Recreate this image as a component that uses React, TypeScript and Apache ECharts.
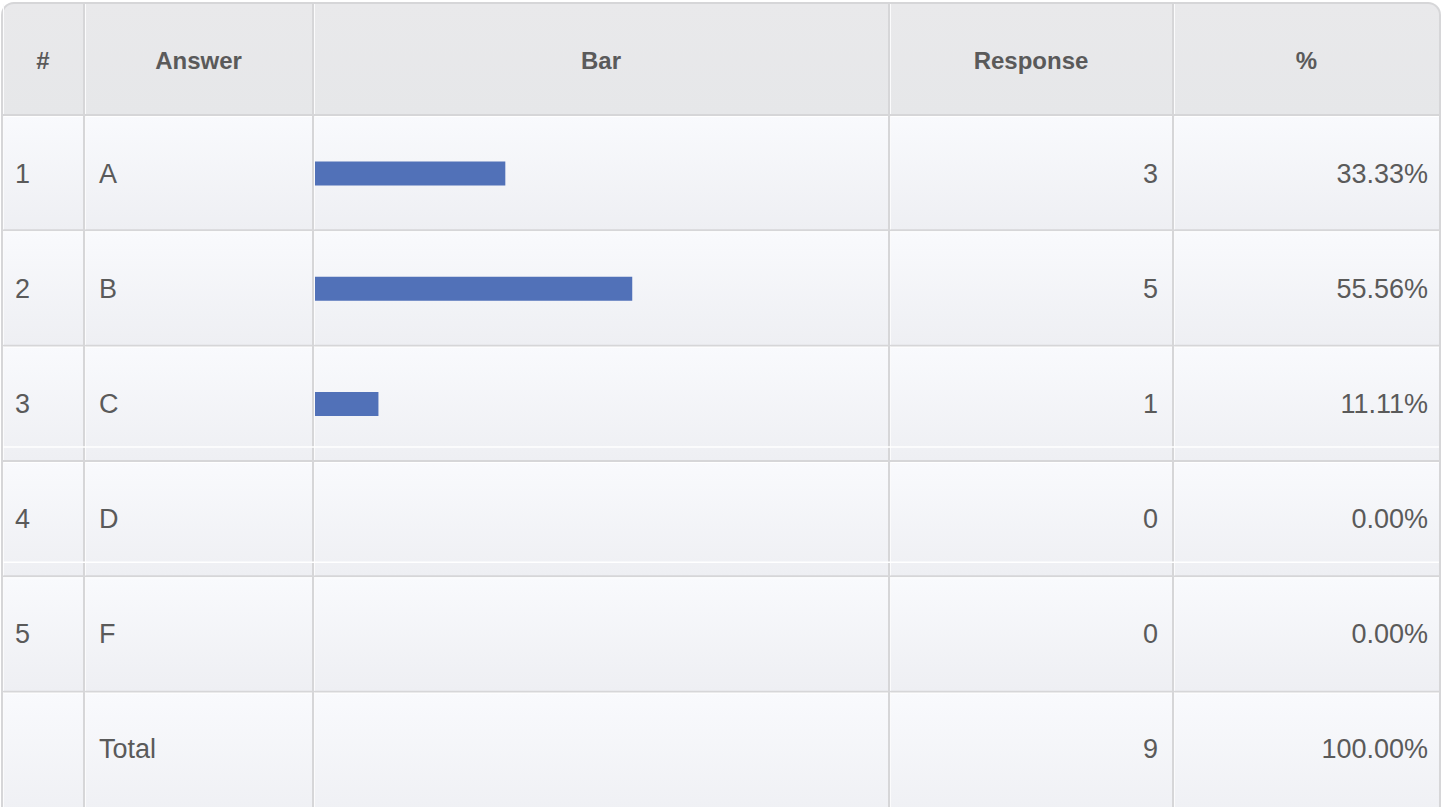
import React, { useEffect, useRef } from "react";
import * as echarts from "echarts";

const answerIds = ["1", "2", "3", "4", "5"];
const answers = ["A", "B", "C", "D", "F"];
const responses = [3, 5, 1, 0, 0];
const percents = [33.33, 55.56, 11.11, 0.0, 0.0];
const totalLabel = "Total";
const totalResponses = 9;
const totalPercent = 100.0;
const headers = ["#", "Answer", "Bar", "Response", "%"];

const W = 1442;
const H = 807;
const colX = [2, 84, 313, 889, 1173, 1440];
const headerTop = 3;
const headerBottom = 115;
const rowH = (H - headerBottom) / 6;
const FONT = "'Liberation Sans', Arial, Helvetica, sans-serif";
const TEXT = "#5a5a5a";

export default function App() {
  const ref = useRef<HTMLDivElement>(null);
  useEffect(() => {
    document.body.style.margin = "0";
    const chart = echarts.init(ref.current!, null, { renderer: "svg", width: W, height: H });

    const rowY: number[] = [headerTop, headerBottom];
    for (let i = 1; i <= 6; i++) rowY.push(headerBottom + rowH * i);
    rowY[rowY.length - 1] = H + 20;

    const graphics: any[] = [];
    graphics.push({
      type: "rect",
      shape: { x: 1, y: 2, width: W - 2, height: H + 20, r: [13, 13, 0, 0] },
      style: { fill: "#d6d6d8" },
      z: -10,
    });
    for (let r = 0; r < rowY.length - 1; r++) {
      for (let c = 0; c < colX.length - 1; c++) {
        const x0 = colX[c] + 1;
        const y0 = rowY[r] + 1;
        const w = colX[c + 1] - colX[c] - 2;
        const h = rowY[r + 1] - rowY[r] - 2;
        const isHeader = r === 0;
        let radius: number[] = [0, 0, 0, 0];
        if (isHeader && c === 0) radius = [11, 0, 0, 0];
        if (isHeader && c === colX.length - 2) radius = [0, 11, 0, 0];
        graphics.push({
          type: "rect",
          shape: { x: x0, y: y0, width: w, height: h, r: radius },
          style: {
            fill: isHeader
              ? new echarts.graphic.LinearGradient(0, 0, 0, 1, [
                  { offset: 0, color: "#e9e9eb" },
                  { offset: 1, color: "#e6e7e9" },
                ])
              : new echarts.graphic.LinearGradient(0, 0, 0, 1, [
                  { offset: 0, color: "#f9fafd" },
                  { offset: 1, color: "#eeeff3" },
                ]),
          },
          z: -9,
        });
        if (!isHeader) {
          graphics.push({
            type: "line",
            shape: { x1: x0, y1: y0 + 0.5, x2: x0 + w, y2: y0 + 0.5 },
            style: { stroke: "#ffffff", lineWidth: 1 },
            z: -8,
          });
        }
        graphics.push({
          type: "line",
          shape: { x1: x0 + 0.5, y1: y0, x2: x0 + 0.5, y2: y0 + h },
          style: { stroke: "#fbfbfc", lineWidth: 1 },
          z: -8,
        });
      }
    }
    // inner white lines seen in rows C and D
    [rowY[4] - 14, rowY[5] - 14].forEach((y) => {
      graphics.push({
        type: "line",
        shape: { x1: colX[0] + 1, y1: y, x2: colX[5] - 1, y2: y },
        style: { stroke: "#ffffff", lineWidth: 1.5 },
        z: -7,
      });
    });
    headers.forEach((t, i) => {
      graphics.push({
        type: "text",
        x: (colX[i] + colX[i + 1]) / 2,
        y: (headerTop + headerBottom) / 2 + 1,
        style: {
          text: t,
          fill: TEXT,
          font: `bold 24px ${FONT}`,
          textAlign: "center",
          textVerticalAlign: "middle",
        },
        z: 5,
      });
    });

    const gridLeft = 315;
    const gridRightEdge = 886;
    const gridTop = headerBottom + 1;
    const labelBase = {
      fontFamily: FONT,
      fontSize: 27,
      color: TEXT,
      margin: 0,
    };
    const hidden = {
      axisLine: { show: false },
      axisTick: { show: false },
      splitLine: { show: false },
      type: "category" as const,
      inverse: true,
      gridIndex: 0,
      z: 5,
    };

    chart.setOption({
      animation: false,
      graphic: graphics,
      grid: {
        left: gridLeft,
        right: W - gridRightEdge,
        top: gridTop,
        height: rowH * 6,
        containLabel: false,
      },
      xAxis: {
        type: "value",
        min: 0,
        max: 100,
        show: false,
      },
      yAxis: [
        {
          ...hidden,
          position: "left",
          offset: gridLeft - 99,
          data: [...answers, totalLabel],
          axisLabel: { ...labelBase, align: "left" },
        },
        {
          ...hidden,
          position: "left",
          offset: gridLeft - 15,
          data: [...answerIds, " "],
          axisLabel: { ...labelBase, align: "left" },
        },
        {
          ...hidden,
          position: "right",
          offset: 1158 - gridRightEdge,
          data: [...responses.map(String), String(totalResponses)],
          axisLabel: { ...labelBase, align: "right" },
        },
        {
          ...hidden,
          position: "right",
          offset: 1428 - gridRightEdge,
          data: [...percents.map((p) => p.toFixed(2) + "%"), totalPercent.toFixed(2) + "%"],
          axisLabel: { ...labelBase, align: "right" },
        },
      ],
      series: [
        {
          type: "bar",
          yAxisIndex: 0,
          data: [...percents, "-"],
          barWidth: 24,
          itemStyle: { color: "#5171b8" },
          z: 4,
        },
      ],
    });
    return () => chart.dispose();
  }, []);
  return <div ref={ref} style={{ width: W, height: H }} />;
}
